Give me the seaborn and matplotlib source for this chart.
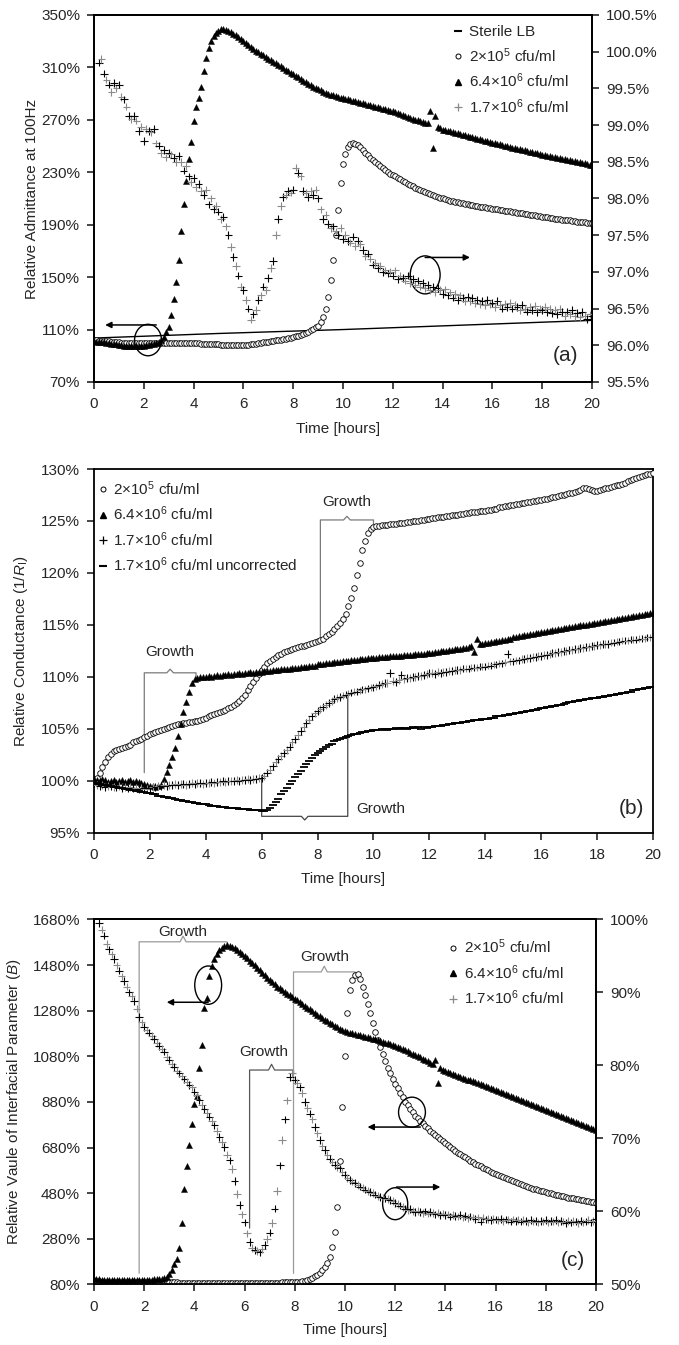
# -*- coding: utf-8 -*-
import numpy as np
import matplotlib.pyplot as plt
import matplotlib.ticker as ticker
from matplotlib.lines import Line2D
from matplotlib.patches import Ellipse
import seaborn as sns

nan = np.nan
# eje de tiempo de todas las series: una lectura cada 6 min, 0 - 20 h
hours = np.round(np.arange(0, 20.05, 0.1), 1)
sterile_hours = np.arange(0, 21)

# ---------------- panel (a): admitancia relativa a 100 Hz ----------------
a_sterile = [103.5, 104.2, 104.9, 105.6, 106.3, 107.0, 107.6, 108.2, 108.8, 109.4, 110.0,
             110.7, 111.4, 112.1, 112.8, 113.5, 114.2, 114.9, 115.6, 116.3, 117.0]
a_circ = [102, 101.8, 101.6, 101.4, 101.2, 101.0, 100.9, 100.7, 100.6, 100.4,
          100.3, 100.1, 100.0, 99.9, 99.8, 99.7, 99.6, 99.6, 99.5, 99.5,
          99.4, 99.4, 99.4, 99.5, 99.5, 99.6, 99.6, 99.7, 99.7, 99.8,
          99.8, 99.9, 99.9, 100.0, 100.0, 100.0, 99.9, 99.9, 99.8, 99.7,
          99.6, 99.5, 99.4, 99.3, 99.2, 99.1, 99.0, 98.9, 98.8, 98.7,
          98.6, 98.5, 98.4, 98.3, 98.2, 98.1, 98.0, 98.0, 98.0, 98.0,
          98.1, 98.3, 98.5, 98.7, 99.0, 99.3, 99.6, 99.9, 100.2, 100.5,
          100.8, 101.1, 101.4, 101.8, 102.1, 102.4, 102.8, 103.1, 103.5, 103.9,
          104.3, 104.8, 105.3, 105.9, 106.6, 107.4, 108.3, 109.3, 110.4, 111.6,
          113.0, 115.5, 119.5, 126.0, 135.0, 148.0, 163.0, 182.0, 201.0, 222.0,
          236.0, 244.0, 249.0, 251.5, 252.0, 251.5, 250.5, 249.0, 247.0, 245.0,
          243.0, 241.0, 239.5, 238.0, 236.5, 235.0, 233.5, 232.0, 230.5, 229.0,
          228.0, 226.8, 225.7, 224.5, 223.4, 222.3, 221.3, 220.2, 219.2, 218.2,
          217.3, 216.4, 215.6, 214.8, 214.0, 213.3, 212.6, 211.9, 211.2, 210.6,
          210.0, 209.4, 208.9, 208.4, 207.9, 207.4, 207.0, 206.6, 206.2, 205.8,
          205.4, 205.0, 204.7, 204.3, 204.0, 203.7, 203.4, 203.1, 202.8, 202.5,
          202.2, 201.9, 201.6, 201.3, 201.0, 200.7, 200.4, 200.1, 199.8, 199.5,
          199.2, 198.9, 198.6, 198.3, 198.0, 197.7, 197.4, 197.1, 196.8, 196.5,
          196.2, 195.9, 195.6, 195.3, 195.0, 194.7, 194.4, 194.2, 193.9, 193.7,
          193.4, 193.2, 192.9, 192.7, 192.4, 192.2, 192.0, 191.8, 191.6, 191.4,
          191.2]
a_tri = [101.0, 100.8, 100.6, 100.4, 100.2, 100.0, 99.6, 99.3, 99.0, 98.6,
         98.3, 98.0, 97.8, 97.6, 97.4, 97.3, 97.2, 97.2, 97.3, 97.4,
         97.6, 97.9, 98.2, 98.6, 99.1, 99.8, 100.8, 102.3, 104.6, 108.0,
         112.0, 121.0, 133.0, 146.0, 163.0, 185.0, 206.0, 223.0, 240.0, 253.0,
         269.0, 280.0, 287.0, 295.0, 307.0, 317.0, 325.0, 330.0, 334.0, 336.5,
         338.0, 339.0, 339.0, 338.5, 338.0, 337.0, 335.8, 334.5, 333.2, 331.8,
         330.0, 328.5, 327.0, 325.5, 324.0, 322.8, 321.5, 320.3, 319.1, 317.9,
         316.7, 315.5, 314.3, 313.1, 311.9, 310.7, 309.5, 308.3, 307.1, 305.9,
         304.7, 303.5, 302.3, 301.1, 299.9, 298.7, 297.6, 296.5, 295.4, 294.3,
         293.3, 292.4, 291.5, 290.7, 290.0, 289.3, 288.7, 288.1, 287.5, 287.0,
         286.5, 286.0, 285.5, 285.0, 284.5, 284.0, 283.5, 283.0, 282.5, 282.0,
         281.5, 281.0, 280.5, 280.0, 279.5, 279.0, 278.5, 278.0, 277.5, 277.0,
         276.5, 275.8, 275.1, 274.4, 273.7, 273.0, 272.3, 271.6, 270.9, 270.2,
         269.6, 269.0, 268.4, 267.8, 267.2, 276.5, 248.5, 273.0, 264.6, 263.6,
         262.6, 262.1, 261.6, 261.1, 260.6, 260.1, 259.6, 259.1, 258.6, 258.1,
         257.6, 257.1, 256.6, 256.1, 255.6, 255.1, 254.6, 254.1, 253.6, 253.1,
         252.6, 252.1, 251.6, 251.2, 250.7, 250.2, 249.7, 249.3, 248.8, 248.4,
         247.9, 247.5, 247.0, 246.6, 246.1, 245.7, 245.3, 244.8, 244.4, 244.0,
         243.5, 243.1, 242.7, 242.3, 241.9, 241.5, 241.1, 240.7, 240.3, 239.9,
         239.5, 239.1, 238.7, 238.3, 237.9, 237.5, 237.1, 236.7, 236.3, 235.9,
         235.5]
# eje derecho
a_plus = [nan, nan, 99.85, 99.9, 99.7, 99.62, 99.55, 99.45, 99.57, 99.5,
          99.55, 99.38, 99.35, 99.25, 99.12, 99.08, 99.12, 99.06, 98.92, 98.98,
          98.78, 98.95, 98.92, 98.9, 98.95, 98.75, 98.72, 98.62, 98.66, 98.56,
          98.62, 98.6, 98.55, 98.5, 98.58, 98.5, 98.38, 98.44, 98.3, 98.22,
          98.28, 98.15, 98.2, 98.1, 98.05, 98.12, 97.92, 98.0, 97.86, 97.9,
          97.82, 97.72, 97.75, 97.62, 97.5, 97.34, 97.2, 97.08, 96.95, 96.8,
          96.75, 96.62, 96.5, 96.35, 96.42, 96.48, 96.62, 96.68, 96.8, 96.75,
          96.92, 97.05, 97.15, 97.5, 97.72, 97.9, 98.02, 98.05, 98.1, 98.08,
          98.12, 98.42, 98.35, 98.3, 98.1, 98.08, 98.02, 98.1, 98.05, 98.12,
          98.0, 97.85, 97.72, 97.78, 97.65, 97.6, 97.62, 97.55, 97.5, 97.6,
          97.45, 97.5, 97.42, 97.4, 97.48, 97.35, 97.42, 97.38, 97.3, 97.22,
          97.25, 97.18, 97.1, 97.12, 97.05, 97.08, 97.0, 97.02, 96.98, 97.0,
          96.95, 97.02, 96.9, 96.95, 96.92, 96.88, 96.95, 96.85, 96.9, 96.82,
          96.88, 96.8, 96.85, 96.78, 96.82, 96.75, 96.8, 96.72, 96.78, 96.75,
          96.7, 96.76, 96.68, 96.72, 96.65, 96.7, 96.62, 96.68, 96.64, 96.6,
          96.66, 96.6, 96.64, 96.58, 96.62, 96.56, 96.6, 96.55, 96.62, 96.56,
          96.58, 96.52, 96.6, 96.55, 96.5, 96.56, 96.52, 96.58, 96.5, 96.55,
          96.52, 96.48, 96.55, 96.5, 96.46, 96.52, 96.48, 96.54, 96.45, 96.5,
          96.48, 96.52, 96.45, 96.5, 96.44, 96.48, 96.42, 96.5, 96.45, 96.4,
          96.46, 96.42, 96.48, 96.4, 96.44, 96.38, 96.45, 96.4, 96.36, 96.42,
          96.4]

# ---------------- panel (b): conductancia relativa ----------------
b_circ = [100.0, 100.3, 100.8, 101.3, 101.8, 102.3, 102.6, 102.9, 103.0, 103.1,
          103.2, 103.3, 103.4, 103.5, 103.7, 103.8, 103.9, 104.0, 104.2, 104.3,
          104.5, 104.6, 104.7, 104.8, 104.9, 105.0, 105.1, 105.2, 105.3, 105.4,
          105.5, 105.5, 105.6, 105.6, 105.7, 105.7, 105.8, 105.8, 105.9, 106.0,
          106.1, 106.2, 106.3, 106.4, 106.5, 106.6, 106.7, 106.8, 107.0, 107.1,
          107.3, 107.5, 107.7, 108.0, 108.3, 108.7, 109.1, 109.5, 109.9, 110.3,
          110.7, 111.0, 111.3, 111.5, 111.7, 111.9, 112.1, 112.2, 112.4, 112.5,
          112.6, 112.7, 112.8, 112.9, 113.0, 113.0, 113.1, 113.2, 113.3, 113.4,
          113.5, 113.6, 113.7, 113.9, 114.1, 114.3, 114.6, 114.9, 115.2, 115.6,
          116.1, 116.8, 117.6, 118.6, 119.8, 121.0, 122.2, 123.1, 123.8, 124.2,
          124.4, 124.5, 124.5, 124.6, 124.6, 124.6, 124.7, 124.7, 124.7, 124.8,
          124.8, 124.8, 124.9, 124.9, 125.0, 125.0, 125.0, 125.1, 125.1, 125.2,
          125.2, 125.3, 125.3, 125.4, 125.4, 125.4, 125.5, 125.5, 125.6, 125.6,
          125.6, 125.7, 125.7, 125.8, 125.8, 125.9, 125.9, 125.9, 126.0, 126.0,
          126.0, 126.1, 126.1, 126.2, 126.2, 126.3, 126.3, 126.4, 126.4, 126.5,
          126.5, 126.6, 126.6, 126.7, 126.7, 126.8, 126.8, 126.9, 126.9, 127.0,
          127.0, 127.1, 127.1, 127.2, 127.3, 127.3, 127.4, 127.5, 127.5, 127.6,
          127.7, 127.7, 127.8, 127.9, 128.0, 128.2, 128.2, 128.1, 128.0, 127.9,
          127.9, 128.0, 128.1, 128.2, 128.2, 128.3, 128.4, 128.5, 128.5, 128.6,
          128.7, 128.8, 128.9, 129.0, 129.1, 129.2, 129.3, 129.4, 129.5, 129.5,
          129.6]
b_tri = [100.2, 100.1, 100.0, 100.2, 100.1, 99.9, 100.0, 100.1, 99.9, 100.0,
         100.1, 99.9, 100.0, 100.1, 99.9, 100.0, 99.9, 99.8, 99.7, 99.6,
         99.5, 99.5, 99.4, 99.5, 99.6, 100.2, 100.9, 101.5, 102.3, 103.2,
         104.3, 105.5, 106.6, 107.6, 108.6, 109.4, 109.8, 109.9, 110.0, 110.0,
         110.0, 110.1, 110.0, 110.1, 110.2, 110.1, 110.2, 110.2, 110.3, 110.2,
         110.3, 110.3, 110.4, 110.3, 110.4, 110.4, 110.5, 110.4, 110.5, 110.5,
         110.5, 110.6, 110.6, 110.6, 110.7, 110.7, 110.7, 110.8, 110.8, 110.8,
         110.8, 110.9, 110.9, 110.9, 111.0, 111.0, 111.0, 111.1, 111.1, 111.1,
         111.2, 111.2, 111.2, 111.3, 111.3, 111.3, 111.4, 111.4, 111.4, 111.5,
         111.5, 111.5, 111.6, 111.6, 111.6, 111.7, 111.7, 111.7, 111.8, 111.8,
         111.8, 111.8, 111.9, 111.9, 111.9, 111.9, 112.0, 112.0, 112.0, 112.0,
         112.0, 112.1, 112.1, 112.1, 112.1, 112.2, 112.2, 112.2, 112.2, 112.3,
         112.3, 112.3, 112.4, 112.4, 112.5, 112.5, 112.5, 112.6, 112.6, 112.7,
         112.7, 112.7, 112.8, 112.8, 112.9, 113.0, 112.4, 113.7, 113.2, 113.2,
         113.3, 113.3, 113.4, 113.4, 113.5, 113.5, 113.6, 113.6, 113.7, 113.7,
         113.8, 113.8, 113.9, 113.9, 114.0, 114.0, 114.1, 114.1, 114.2, 114.2,
         114.3, 114.3, 114.4, 114.4, 114.5, 114.5, 114.6, 114.6, 114.7, 114.7,
         114.8, 114.8, 114.9, 114.9, 115.0, 115.0, 115.0, 115.1, 115.1, 115.2,
         115.2, 115.3, 115.3, 115.4, 115.4, 115.5, 115.5, 115.6, 115.6, 115.7,
         115.7, 115.8, 115.8, 115.9, 115.9, 116.0, 116.0, 116.1, 116.1, 116.2,
         116.2]
b_plus = [99.8, 99.6, 99.5, 99.6, 99.4, 99.5, 99.5, 99.4, 99.4, 99.5,
          99.3, 99.4, 99.3, 99.4, 99.3, 99.3, 99.2, 99.3, 99.3, 99.2,
          99.3, 99.4, 99.4, 99.5, 99.5, 99.6, 99.5, 99.6, 99.6, 99.7,
          99.6, 99.7, 99.7, 99.6, 99.7, 99.8, 99.7, 99.8, 99.8, 99.7,
          99.8, 99.8, 99.9, 99.8, 99.9, 99.9, 100.0, 99.9, 100.0, 100.0,
          100.0, 100.1, 100.0, 100.1, 100.1, 100.2, 100.1, 100.2, 100.2, 100.3,
          100.3, 100.5, 100.8, 101.1, 101.4, 101.8, 102.1, 102.4, 102.7, 103.0,
          103.3, 103.7, 104.0, 104.4, 104.8, 105.2, 105.6, 105.9, 106.2, 106.5,
          106.7, 106.9, 107.1, 107.3, 107.5, 107.7, 107.9, 108.0, 108.1, 108.2,
          108.3, 108.4, 108.5, 108.6, 108.6, 108.7, 108.8, 108.8, 108.9, 109.0,
          109.0, 109.1, 109.2, 109.3, 109.4, 109.4, 110.4, 109.6, 109.5, 109.7,
          110.2, 109.8, 109.9, 109.9, 110.0, 110.0, 110.1, 110.1, 110.2, 110.3,
          110.4, 110.4, 110.3, 110.5, 110.4, 110.5, 110.5, 110.6, 110.6, 110.7,
          110.7, 110.7, 110.8, 110.8, 110.8, 110.9, 110.9, 110.9, 111.0, 111.0,
          111.0, 111.1, 111.1, 111.2, 111.2, 111.3, 111.3, 111.4, 112.2, 111.5,
          111.5, 111.6, 111.6, 111.7, 111.7, 111.8, 111.8, 111.9, 111.9, 112.0,
          112.0, 112.1, 112.1, 112.2, 112.3, 112.3, 112.4, 112.4, 112.5, 112.5,
          112.6, 112.6, 112.7, 112.7, 112.8, 112.8, 112.9, 112.9, 113.0, 113.0,
          113.1, 113.1, 113.2, 113.2, 113.2, 113.3, 113.3, 113.4, 113.4, 113.5,
          113.5, 113.5, 113.6, 113.6, 113.6, 113.7, 113.7, 113.7, 113.8, 113.8,
          113.8]
b_dash = [99.8, 99.7, 99.7, 99.6, 99.6, 99.5, 99.5, 99.4, 99.4, 99.3,
          99.3, 99.2, 99.2, 99.1, 99.1, 99.0, 99.0, 98.9, 98.9, 98.8,
          98.8, 98.7, 98.7, 98.6, 98.6, 98.5, 98.5, 98.4, 98.4, 98.3,
          98.2, 98.2, 98.1, 98.1, 98.0, 98.0, 97.9, 97.9, 97.8, 97.8,
          97.8, 97.7, 97.6, 97.6, 97.6, 97.5, 97.5, 97.5, 97.4, 97.4,
          97.4, 97.4, 97.3, 97.3, 97.3, 97.3, 97.2, 97.2, 97.2, 97.2,
          97.1, 97.1, 97.2, 97.4, 97.7, 98.0, 98.3, 98.7, 99.0, 99.3,
          99.7, 100.0, 100.4, 100.7, 101.0, 101.3, 101.6, 101.9, 102.2, 102.5,
          102.7, 102.9, 103.1, 103.3, 103.5, 103.6, 103.8, 103.9, 104.0, 104.1,
          104.2, 104.3, 104.4, 104.5, 104.5, 104.6, 104.7, 104.7, 104.8, 104.8,
          104.9, 104.9, 104.9, 105.0, 105.0, 104.9, 105.0, 105.0, 105.1, 105.0,
          105.1, 105.1, 105.0, 105.1, 105.2, 105.1, 105.2, 105.0, 105.2, 105.1,
          105.2, 105.2, 105.3, 105.3, 105.3, 105.4, 105.4, 105.5, 105.5, 105.6,
          105.6, 105.6, 105.7, 105.7, 105.8, 105.8, 105.9, 105.9, 105.9, 106.0,
          106.0, 106.0, 106.1, 106.1, 106.2, 106.2, 106.2, 106.3, 106.3, 106.4,
          106.4, 106.5, 106.5, 106.6, 106.6, 106.7, 106.7, 106.8, 106.8, 106.9,
          107.0, 107.0, 107.1, 107.1, 107.2, 107.2, 107.3, 107.3, 107.4, 107.5,
          107.6, 107.6, 107.7, 107.7, 107.8, 107.8, 107.9, 107.9, 108.0, 108.0,
          108.0, 108.1, 108.1, 108.2, 108.2, 108.3, 108.3, 108.4, 108.4, 108.5,
          108.5, 108.6, 108.6, 108.7, 108.7, 108.8, 108.8, 108.9, 108.9, 109.0,
          109.0]

# ---------------- panel (c): parametro interfacial B ----------------
c_circ = [96, 95, 94, 93, 93, 92, 92, 92, 91, 91,
          91, 91, 91, 90, 90, 90, 90, 90, 90, 90,
          90, 90, 89, 89, 89, 89, 89, 89, 89, 89,
          89, 89, 89, 89, 88, 88, 88, 88, 88, 88,
          88, 88, 88, 88, 88, 88, 88, 88, 88, 88,
          88, 88, 88, 87, 87, 87, 87, 87, 87, 87,
          87, 87, 87, 87, 87, 87, 87, 87, 87, 88,
          88, 88, 88, 88, 88, 89, 89, 89, 89, 89,
          90, 91, 92, 94, 97, 100, 104, 109, 115, 122,
          131, 142, 155, 172, 200, 245, 310, 420, 620, 860,
          1080, 1270, 1370, 1415, 1435, 1440, 1420, 1385, 1350, 1310,
          1270, 1226, 1188, 1151, 1120, 1090, 1058, 1030, 1005, 982,
          960, 940, 920, 900, 882, 865, 849, 834, 820, 808,
          797, 786, 775, 764, 753, 743, 734, 725, 716, 707,
          699, 690, 682, 674, 666, 658, 651, 644, 637, 630,
          623, 617, 610, 604, 598, 592, 586, 580, 574, 569,
          563, 559, 554, 550, 546, 542, 538, 534, 530, 525,
          520, 516, 512, 508, 504, 500, 497, 494, 491, 488,
          485, 482, 479, 476, 473, 470, 468, 466, 463, 461,
          459, 457, 455, 453, 451, 449, 447, 445, 443, 441,
          439]
c_tri = [104, 103, 102, 101, 101, 100, 100, 100, 100, 100,
         100, 100, 100, 100, 100, 100, 100, 100, 100, 100,
         100, 100, 101, 101, 102, 103, 104, 106, 109, 114,
         125, 145, 170, 190, 240, 350, 500, 600, 690, 785,
         870, 905, 1030, 1130, 1290, 1335, 1430, 1475, 1505, 1530,
         1545, 1555, 1562, 1567, 1565, 1560, 1554, 1546, 1537, 1528,
         1518, 1509, 1500, 1490, 1479, 1468, 1458, 1447, 1436, 1425,
         1414, 1404, 1395, 1386, 1378, 1370, 1362, 1355, 1347, 1340,
         1332, 1325, 1317, 1310, 1302, 1294, 1286, 1278, 1270, 1262,
         1255, 1248, 1241, 1234, 1227, 1220, 1213, 1207, 1201, 1195,
         1190, 1187, 1184, 1181, 1178, 1175, 1172, 1169, 1166, 1163,
         1160, 1157, 1154, 1150, 1147, 1144, 1140, 1137, 1134, 1130,
         1127, 1122, 1117, 1112, 1107, 1102, 1096, 1091, 1086, 1080,
         1075, 1069, 1063, 1058, 1052, 1046, 1063, 963, 1028, 1020,
         1015, 1010, 1006, 1002, 998, 994, 990, 986, 982, 978,
         975, 971, 967, 962, 958, 954, 949, 945, 941, 936,
         932, 928, 923, 919, 915, 910, 906, 902, 897, 893,
         889, 885, 880, 876, 872, 867, 863, 859, 854, 850,
         846, 841, 837, 832, 828, 824, 819, 815, 810, 806,
         802, 797, 793, 788, 784, 779, 775, 770, 766, 761,
         757]
# eje derecho
c_plus = [nan, nan, 99.5, 98.6, 97.8, 96.6, 95.9, 95.2, 94.6, 93.7,
          93.0, 92.2, 91.6, 90.8, 90.0, 89.5, 88.8, 87.8, 86.6, 85.9,
          85.3, 84.8, 84.5, 84.0, 83.6, 83.1, 82.7, 82.3, 81.9, 81.2,
          80.8, 80.2, 79.8, 79.3, 78.9, 78.5, 78.1, 77.7, 77.3, 77.0,
          76.4, 75.9, 75.3, 74.6, 74.0, 73.5, 73.0, 72.4, 71.8, 71.0,
          70.2, 69.5, 68.8, 67.8, 67.0, 65.8, 64.2, 62.4, 60.9, 59.6,
          58.5, 57.0, 55.8, 55.0, 54.7, 54.6, 54.4, 54.8, 55.4, 56.2,
          57.1, 58.4, 60.4, 62.8, 66.3, 69.8, 72.6, 75.2, 78.4, 78.9,
          78.0, 77.6, 77.0, 76.2, 75.0, 74.2, 73.4, 72.6, 71.6, 70.7,
          69.8, 69.0, 68.4, 67.7, 67.2, 66.8, 66.4, 66.1, 65.9, 65.4,
          65.0, 64.6, 64.3, 64.1, 63.9, 63.6, 63.4, 63.2, 63.0, 62.8,
          62.7, 62.5, 62.3, 62.1, 62.0, 61.9, 61.8, 61.7, 61.6, 61.4,
          61.2, 61.0, 60.8, 60.6, 60.4, 60.2, 60.3, 60.1, 59.9, 60.1,
          59.9, 59.8, 60.0, 59.7, 59.9, 59.8, 59.6, 59.8, 59.5, 59.7,
          59.5, 59.6, 59.3, 59.5, 59.4, 59.3, 59.5, 59.2, 59.4, 59.1,
          59.3, 59.2, 59.0, 59.2, 58.6, 59.1, 58.9, 59.0, 58.8, 59.0,
          58.9, 58.8, 59.0, 58.7, 58.9, 58.8, 58.6, 58.9, 58.7, 58.8,
          58.6, 58.8, 58.7, 58.5, 58.8, 58.6, 58.7, 58.5, 58.7, 58.6,
          58.8, 58.5, 58.7, 58.6, 58.8, 58.5, 58.7, 58.6, 58.4, 58.7,
          58.5, 58.7, 58.6, 58.4, 58.7, 58.5, 58.6, 58.8, 58.5, 58.7,
          58.9]

lab_5 = '2×10$^{5}$ cfu/ml'
lab_64 = '6.4×10$^{6}$ cfu/ml'
lab_17 = '1.7×10$^{6}$ cfu/ml'
lab_17u = '1.7×10$^{6}$ cfu/ml uncorrected'

# ---------------- estilo ----------------
sns.set_theme(style='ticks')
plt.rcParams['font.family'] = ['Liberation Sans', 'DejaVu Sans']
plt.rcParams['mathtext.fontset'] = 'custom'
plt.rcParams['mathtext.rm'] = 'Liberation Sans'
plt.rcParams['mathtext.it'] = 'Liberation Sans:italic'
plt.rcParams['mathtext.bf'] = 'Liberation Sans:bold'
plt.rcParams['axes.linewidth'] = 1.3
plt.rcParams['axes.edgecolor'] = 'black'

FS = 11
GRAY = '#8a8a8a'
shade = np.where(np.arange(len(hours)) % 2 == 0, 'dark', 'light')


def circles(ax, y):
    sns.scatterplot(x=hours, y=y, marker='o', s=16, color='white',
                    edgecolor='black', linewidth=0.6, legend=False, ax=ax, zorder=3)


def triangles(ax, y):
    sns.scatterplot(x=hours, y=y, marker='^', s=19, color='black',
                    edgecolor='black', linewidth=0.3, legend=False, ax=ax, zorder=3)


def pluses(ax, y):
    sns.scatterplot(x=hours, y=y, hue=shade, palette={'dark': 'black', 'light': GRAY},
                    marker='+', s=30, linewidth=0.8, legend=False, ax=ax, zorder=3)


def dashes(ax, y):
    sns.scatterplot(x=hours, y=y, marker='_', s=30, color='black',
                    linewidth=1.3, legend=False, ax=ax, zorder=3)


def bracket(ax, x0, x1, y, y_left, tip, y_right=None, color=GRAY):
    # llave horizontal con pata vertical a la izquierda
    xm = (x0 + x1) / 2
    xs = [x0, x0, xm - 0.12, xm, xm + 0.12, x1]
    ys = [y_left, y, y, y + tip, y, y]
    if y_right is not None:
        xs.append(x1)
        ys.append(y_right)
    ax.plot(xs, ys, color=color, lw=0.9, zorder=2)


def arrow(ax, x_from, x_to, y):
    ax.annotate('', xy=(x_to, y), xytext=(x_from, y),
                arrowprops=dict(arrowstyle='-|>', color='black', lw=1.1,
                                mutation_scale=9, shrinkA=0, shrinkB=0), zorder=5)


def ring(ax, x, y, w, h):
    ax.add_patch(Ellipse((x, y), w, h, fill=False, ec='black', lw=1.0, zorder=5))


def style_x(ax, label_x, label_y):
    ax.set_xlim(0, 20)
    ax.set_xticks(np.arange(0, 21, 2))
    ax.set_xlabel('Time [hours]', fontsize=FS)
    ax.xaxis.set_label_coords(label_x, label_y)
    ax.tick_params(axis='x', direction='out', length=5, width=1.2, pad=6, labelsize=FS)
    ax.tick_params(axis='y', direction='out', length=5, width=1.2, pad=5, labelsize=FS)


def legend(ax, handles, labels, anchor):
    ax.legend(handles, labels, loc='upper left', bbox_to_anchor=anchor, frameon=False,
              fontsize=FS, handlelength=0.7, handletextpad=0.35, borderpad=0,
              borderaxespad=0, labelspacing=0.45)


h_dash = Line2D([], [], ls='none', marker='_', color='black', ms=6, mew=1.5)
h_circ = Line2D([], [], ls='none', marker='o', mfc='white', mec='black', ms=3.6, mew=0.7)
h_tri = Line2D([], [], ls='none', marker='^', color='black', ms=4)
h_plus_g = Line2D([], [], ls='none', marker='+', color=GRAY, ms=6, mew=0.9)
h_plus_k = Line2D([], [], ls='none', marker='+', color='black', ms=6, mew=0.9)

fig = plt.figure(figsize=(6.79, 13.45), dpi=100)

# ================= panel (a) =================
ax = fig.add_axes([0.1384, 0.7160, 0.7335, 0.2729])
ax2 = ax.twinx()
sns.lineplot(x=sterile_hours, y=a_sterile, color='black', lw=1.0, ax=ax, legend=False)
circles(ax, a_circ)
triangles(ax, a_tri)
pluses(ax2, a_plus)
ax.set_ylim(70, 350)
ax.set_yticks(np.arange(70, 351, 40))
ax.yaxis.set_major_formatter(ticker.FormatStrFormatter('%d%%'))
ax2.set_ylim(95.5, 100.5)
ax2.set_yticks(np.arange(95.5, 100.51, 0.5))
ax2.yaxis.set_major_formatter(ticker.FormatStrFormatter('%.1f%%'))
ax2.tick_params(axis='y', direction='out', length=5, width=1.2, pad=5, labelsize=FS)
style_x(ax, 0.49, -0.108)
ax.set_ylabel('Relative Admittance at 100Hz', fontsize=FS)
ax.yaxis.set_label_coords(-0.11, 0.5)
ring(ax, 2.17, 102, 1.08, 24)
arrow(ax, 2.5, 0.45, 113.5)
ring(ax, 13.3, 151.7, 1.2, 29)
arrow(ax, 13.3, 15.1, 165)
ax.text(19.45, 90, '(a)', fontsize=15, ha='right', va='center')
legend(ax2, [h_dash, h_circ, h_tri, h_plus_g], ['Sterile LB', lab_5, lab_64, lab_17],
       (0.72, 0.972))

# ================= panel (b) =================
ax = fig.add_axes([0.1384, 0.3807, 0.8233, 0.2706])
circles(ax, b_circ)
triangles(ax, b_tri)
pluses(ax, b_plus)
dashes(ax, b_dash)
ax.set_ylim(95, 130)
ax.set_yticks(np.arange(95, 131, 5))
ax.yaxis.set_major_formatter(ticker.FormatStrFormatter('%d%%'))
style_x(ax, 0.445, -0.108)
ax.set_ylabel(r'Relative Conductance (1/$\mathit{R}_\mathrm{I}$)', fontsize=FS)
ax.yaxis.set_label_coords(-0.115, 0.5)
bracket(ax, 1.8, 3.65, 110.4, 100.8, 0.35, 110.0, color='#7a7a7a')
bracket(ax, 8.1, 10.0, 125.1, 113.8, 0.35, 124.7, color='#7a7a7a')
bracket(ax, 6.0, 9.08, 96.6, 100.5, -0.35, 108.0, color='#444444')
ax.text(2.7, 112.4, 'Growth', fontsize=FS, ha='center', va='center')
ax.text(9.05, 126.8, 'Growth', fontsize=FS, ha='center', va='center')
ax.text(9.4, 97.3, 'Growth', fontsize=FS, ha='left', va='center')
ax.text(19.7, 97.4, '(b)', fontsize=15, ha='right', va='center')
legend(ax, [h_circ, h_tri, h_plus_k, h_dash], [lab_5, lab_64, lab_17, lab_17u],
       (0.006, 0.972))

# ================= panel (c) =================
ax = fig.add_axes([0.1384, 0.0450, 0.7393, 0.2714])
ax2 = ax.twinx()
circles(ax, c_circ)
triangles(ax, c_tri)
pluses(ax2, c_plus)
ax.set_ylim(80, 1680)
ax.set_yticks(np.arange(80, 1681, 200))
ax.yaxis.set_major_formatter(ticker.FormatStrFormatter('%d%%'))
ax2.set_ylim(50, 100)
ax2.set_yticks(np.arange(50, 101, 10))
ax2.yaxis.set_major_formatter(ticker.FormatStrFormatter('%d%%'))
ax2.tick_params(axis='y', direction='out', length=5, width=1.2, pad=5, labelsize=FS)
style_x(ax, 0.50, -0.105)
ax.set_ylabel(r'Relative Vaule of Interfacial Parameter ($\mathit{B}$)', fontsize=FS)
ax.yaxis.set_label_coords(-0.142, 0.5)
bracket(ax, 1.8, 5.3, 1582, 129, 25, 1565, color='#9a9a9a')
bracket(ax, 6.2, 7.95, 1020, 327, 25, 1000, color='#555555')
bracket(ax, 7.95, 10.4, 1450, 129, 25, 1430, color='#9a9a9a')
ax.text(3.55, 1626, 'Growth', fontsize=FS, ha='center', va='center')
ax.text(6.75, 1098, 'Growth', fontsize=FS, ha='center', va='center')
ax.text(9.2, 1514, 'Growth', fontsize=FS, ha='center', va='center')
ring(ax, 4.55, 1392, 1.07, 168)
arrow(ax, 4.55, 2.9, 1317)
ring(ax, 12.67, 835, 1.07, 132)
arrow(ax, 13.0, 10.9, 770)
ring(ax, 12.0, 434, 1.0, 140)
arrow(ax, 12.05, 13.8, 507)
ax.text(19.55, 187, '(c)', fontsize=15, ha='right', va='center')
legend(ax2, [h_circ, h_tri, h_plus_g], [lab_5, lab_64, lab_17], (0.705, 0.95))

fig.savefig('out.png', dpi=100)
plt.close()
